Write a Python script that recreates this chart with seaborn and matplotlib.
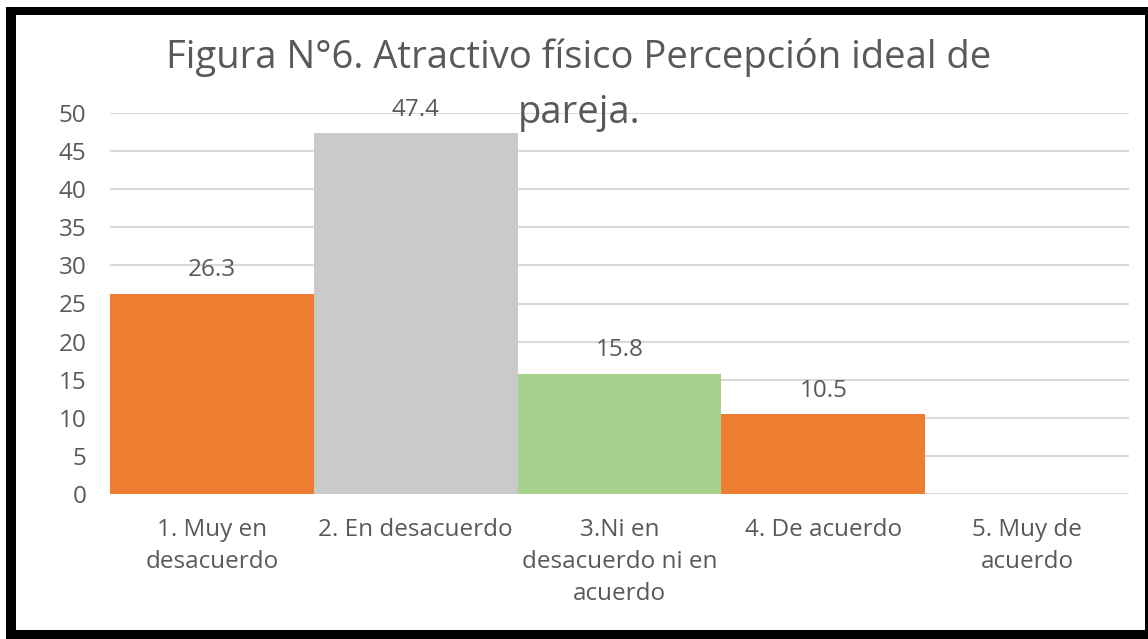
import matplotlib
matplotlib.use("Agg")
import matplotlib.pyplot as plt
import seaborn as sns
import pandas as pd
from matplotlib.patches import Rectangle

# chart data
categories = ["1. Muy en\ndesacuerdo", "2. En desacuerdo", "3.Ni en\ndesacuerdo ni en\nacuerdo",
              "4. De acuerdo", "5. Muy de\nacuerdo"]
values = [26.3, 47.4, 15.8, 10.5, 0]
bar_colors = ["#ED7D31", "#CBCACB", "#A9D18E", "#ED7D31", "#ED7D31"]
y_ticks = [0, 5, 10, 15, 20, 25, 30, 35, 40, 45, 50]
title_lines = ["Figura N°6. Atractivo físico Percepción ideal de", "pareja."]

df = pd.DataFrame({"cat": categories, "val": values})

sns.set_style("white")
plt.rcParams["font.family"] = ["Open Sans", "DejaVu Sans"]
text_color = "#595959"

W, H = 1148, 639
fig = plt.figure(figsize=(W / 100, H / 100), dpi=100)
fig.patch.set_facecolor("white")

# plot area in pixels: x 110..1129, y 113..494
ax = fig.add_axes([110 / W, 1 - 494 / H, (1129 - 110) / W, (494 - 113) / H])
sns.barplot(data=df, x="cat", y="val", hue="cat", palette=bar_colors,
            width=1.0, legend=False, ax=ax, zorder=3, saturation=1, linewidth=0)

ax.set_ylim(0, 50)
ax.set_xlim(-0.5, len(categories) - 0.5)
ax.set_yticks(y_ticks)
ax.yaxis.grid(True, color="#D9D9D9", linewidth=1.5, zorder=0)
ax.set_axisbelow(True)
for s in ax.spines.values():
    s.set_visible(False)
ax.tick_params(axis="both", length=0, labelsize=17.5, labelcolor=text_color)
ax.tick_params(axis="y", pad=17)
ax.tick_params(axis="x", pad=17)
for lbl in ax.get_xticklabels():
    lbl.set_linespacing(1.45)
ax.set_xlabel("")
ax.set_ylabel("")

# data labels
for cont in ax.containers:
    labels = [f"{v:.1f}" if v > 0 else "" for v in cont.datavalues]
    ax.bar_label(cont, labels=labels, padding=8, fontsize=17.5, color=text_color)

# title (second line overlaps the plot area like the original)
for line, base_y in zip(title_lines, [68, 123]):
    fig.text(579 / W, 1 - base_y / H, line, ha="center", va="baseline", fontsize=27.5,
             color=text_color, zorder=5)

# black frame around the chart
frame = [(6, 7, 10, 628), (6, 7, 1142, 8), (1145, 7, 3, 628), (6, 630, 1142, 9)]
for x, y, w, h in frame:
    fig.patches.append(Rectangle((x / W, 1 - (y + h) / H), w / W, h / H,
                                 transform=fig.transFigure, facecolor="black",
                                 edgecolor="none", zorder=10))

fig.savefig("out.png", dpi=100)
